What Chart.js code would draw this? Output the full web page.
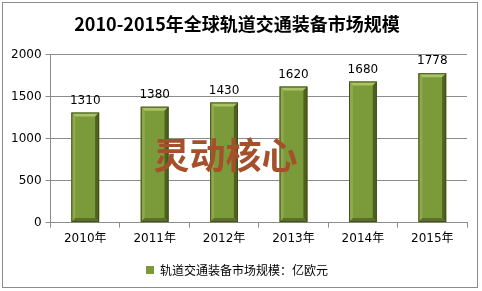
<!DOCTYPE html>
<html>
<head>
<meta charset="utf-8">
<script src="https://cdn.jsdelivr.net/npm/chart.js"></script>
<style>
  html, body { margin: 0; padding: 0; background: #fff; }
  #wrap { position: absolute; left: 2px; top: 2px; width: 476px; height: 286px; border: 1px solid #8c8c8c; box-sizing: border-box; }
  canvas { display: block; }
</style>
</head>
<body>
<div id="wrap"><canvas id="chart" width="476" height="286"></canvas></div>
<script>
const years = ['2010年', '2011年', '2012年', '2013年', '2014年', '2015年'];
const marketSize = [1310, 1380, 1430, 1620, 1680, 1778];
const yTicks = [0, 500, 1000, 1500, 2000];

const bevel = {
  id: 'bevel',
  afterDatasetsDraw(chart) {
    const c = chart.ctx;
    const values = chart.data.datasets[0].data;
    chart.getDatasetMeta(0).data.forEach((bar, i) => {
      const l = bar.x - bar.width / 2, r = bar.x + bar.width / 2;
      const t = bar.y, b = bar.base, e = 4;
      c.save();
      c.fillStyle = '#a9c264';
      c.beginPath(); c.moveTo(l, t); c.lineTo(r, t); c.lineTo(r - e, t + e); c.lineTo(l + e, t + e); c.fill();
      c.fillStyle = '#8ea84c';
      c.beginPath(); c.moveTo(l, t); c.lineTo(l + e, t + e); c.lineTo(l + e, b - e); c.lineTo(l, b); c.fill();
      c.fillStyle = '#4e6220';
      c.beginPath(); c.moveTo(r, t); c.lineTo(r, b); c.lineTo(r - e, b - e); c.lineTo(r - e, t + e); c.fill();
      c.fillStyle = '#5a7027';
      c.beginPath(); c.moveTo(l, b); c.lineTo(r, b); c.lineTo(r - e, b - e); c.lineTo(l + e, b - e); c.fill();
      c.strokeStyle = '#3f501a'; c.lineWidth = 1;
      c.strokeRect(l + 0.5, t + 0.5, bar.width - 1, b - t - 1);
      c.restore();
      c.save();
      c.fillStyle = '#000';
      c.font = '12px "DejaVu Sans", sans-serif';
      c.textAlign = 'center';
      c.textBaseline = 'bottom';
      c.fillText(String(values[i]), bar.x, t - 6);
      c.restore();
    });
    const a = chart.chartArea;
    c.save();
    c.fillStyle = '#a5502a';
    c.font = 'bold 36px "Noto Sans CJK SC", sans-serif';
    c.textAlign = 'center';
    c.textBaseline = 'middle';
    c.fillText('灵动核心', a.left + (a.right - a.left) * 0.42, a.top + (a.bottom - a.top) * 0.6);
    c.restore();
  }
};

new Chart(document.getElementById('chart'), {
  type: 'bar',
  data: {
    labels: years,
    datasets: [{
      label: '轨道交通装备市场规模：亿欧元',
      data: marketSize,
      backgroundColor: '#7b9a3a',
      borderWidth: 0,
      categoryPercentage: 0.8,
      barPercentage: 0.5
    }]
  },
  options: {
    responsive: false,
    animation: false,
    layout: { padding: { left: 4, right: 12, top: 0, bottom: 3 } },
    scales: {
      x: {
        grid: { display: true, drawOnChartArea: false, color: '#8c8c8c', tickLength: 5, offset: true },
        border: { color: '#8c8c8c' },
        ticks: { color: '#000', font: { size: 12, family: '"DejaVu Sans", "Noto Sans CJK SC", sans-serif' }, padding: 4 }
      },
      y: {
        min: 0, max: 2000,
        afterBuildTicks(axis) { axis.ticks = yTicks.map(v => ({ value: v })); },
        grid: { color: '#8c8c8c', tickLength: 5 },
        border: { color: '#8c8c8c' },
        ticks: { color: '#000', font: { size: 12, family: '"DejaVu Sans", sans-serif' }, padding: 4,
                 callback: v => String(v) }
      }
    },
    plugins: {
      title: {
        display: true,
        text: '2010-2015年全球轨道交通装备市场规模',
        color: '#000',
        font: { size: 18, weight: 'bold', family: '"Noto Sans CJK SC", sans-serif' },
        padding: { top: 10, bottom: 20 }
      },
      legend: {
        position: 'bottom',
        labels: {
          color: '#000',
          boxWidth: 8, boxHeight: 8,
          font: { size: 12, family: '"Noto Sans CJK SC", sans-serif' },
          padding: 14
        }
      },
      tooltip: { enabled: false }
    }
  },
  plugins: [bevel]
});
</script>
</body>
</html>
